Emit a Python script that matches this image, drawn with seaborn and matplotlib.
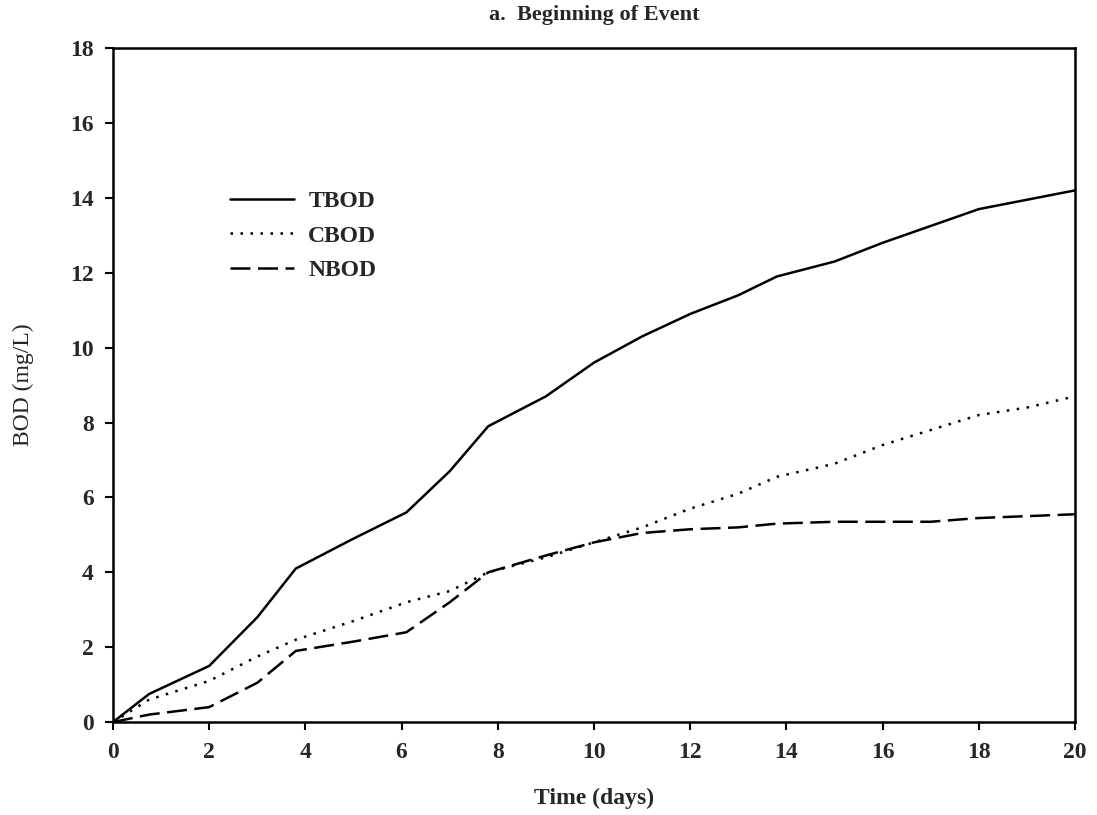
import matplotlib
matplotlib.use("Agg")
import matplotlib.pyplot as plt
import seaborn as sns
import pandas as pd

days = [0, 0.75, 2, 3, 3.8, 5, 6.1, 7, 7.8, 9, 10, 11, 12, 13, 13.8, 15, 16, 17, 18, 19, 20]
tbod = [0, 0.75, 1.5, 2.8, 4.1, 4.9, 5.6, 6.7, 7.9, 8.7, 9.6, 10.3, 10.9, 11.4, 11.9, 12.3, 12.8, 13.25, 13.7, 13.95, 14.2]
cbod = [0, 0.6, 1.1, 1.75, 2.2, 2.7, 3.2, 3.5, 4.0, 4.4, 4.8, 5.2, 5.7, 6.1, 6.55, 6.9, 7.4, 7.8, 8.2, 8.4, 8.7]
nbod = [0, 0.2, 0.4, 1.05, 1.9, 2.15, 2.4, 3.2, 4.0, 4.45, 4.8, 5.05, 5.15, 5.2, 5.3, 5.35, 5.35, 5.35, 5.45, 5.5, 5.55]
series = ["TBOD", "CBOD", "NBOD"]
x_ticks = list(range(0, 21, 2))
y_ticks = list(range(0, 19, 2))

df = pd.DataFrame({
    "Time": days * 3,
    "BOD": tbod + cbod + nbod,
    "Series": [s for s in series for _ in days],
})

sns.set_theme(style="white")
plt.rcParams["font.family"] = ["Liberation Serif", "DejaVu Serif"]

fig = plt.figure(figsize=(10.97, 8.15), dpi=100)
ax = fig.add_axes([0.103, 0.114, 0.877, 0.827])

sns.lineplot(data=df, x="Time", y="BOD", hue="Series", style="Series",
             palette={"TBOD": "black", "CBOD": "black", "NBOD": "black"},
             dashes={"TBOD": "", "CBOD": (1, 3), "NBOD": (8, 3)},
             linewidth=1.8, ax=ax)

ax.set_xlim(0, 20)
ax.set_ylim(0, 18)
ax.set_xticks(x_ticks)
ax.set_yticks(y_ticks)
ax.tick_params(axis="both", direction="out", length=6, width=1.5, color="black",
               labelsize=17, pad=8, bottom=True, left=True)
for lab in ax.get_xticklabels() + ax.get_yticklabels():
    lab.set_fontweight("bold")
for sp in ax.spines.values():
    sp.set_color("black")
    sp.set_linewidth(1.8)

ax.set_xlabel("Time (days)", fontsize=17, fontweight="bold", labelpad=18)
ax.set_ylabel("BOD (mg/L)", fontsize=17, labelpad=26)
ax.set_title("a.  Beginning of Event", fontsize=16, fontweight="bold", pad=20)

leg = ax.legend(loc="upper left", bbox_to_anchor=(0.1, 0.82), frameon=False,
                fontsize=17, handlelength=2.7, handletextpad=0.6, labelspacing=0.55)
for t in leg.get_texts():
    t.set_fontweight("bold")

fig.savefig("out.png", dpi=100)
